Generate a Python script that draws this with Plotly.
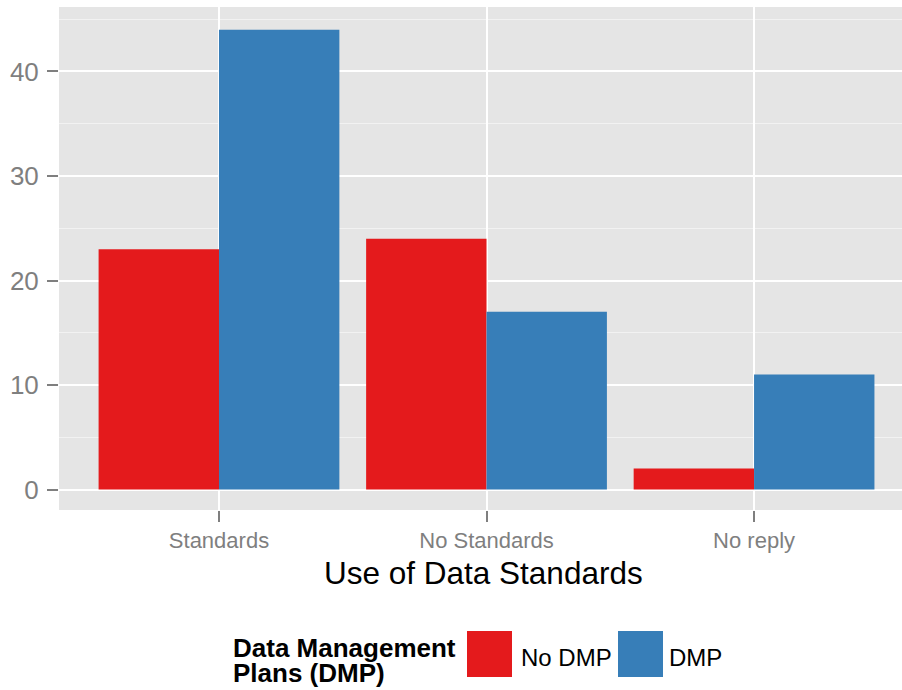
import plotly.graph_objects as go

categories = ["Standards", "No Standards", "No reply"]
no_dmp = [23, 24, 2]
dmp = [44, 17, 11]
series_names = ["No DMP", "DMP"]
y_ticks = [0, 10, 20, 30, 40]
x_title = "Use of Data Standards"
legend_title = ["Data Management", "Plans (DMP)"]

RED = "#E41A1C"
BLUE = "#377EB8"
FONT = "Liberation Sans, Arial, sans-serif"
W, H = 902, 690
L, R, T, B = 59, 0, 7, 180
PW, PH = W - L - R, H - T - B


def px_x(px):
    return (px - L) / PW


def px_y(py):
    return (H - B - py) / PH


fig = go.Figure()
fig.add_trace(go.Bar(x=categories, y=no_dmp, name=series_names[0],
                     marker=dict(color=RED, line=dict(width=0)), showlegend=False))
fig.add_trace(go.Bar(x=categories, y=dmp, name=series_names[1],
                     marker=dict(color=BLUE, line=dict(width=0)), showlegend=False))

fig.update_layout(
    width=W, height=H,
    margin=dict(l=L, r=R, t=T, b=B, pad=0, autoexpand=False),
    paper_bgcolor="white",
    plot_bgcolor="#E5E5E5",
    barmode="group", bargap=0.1, bargroupgap=0,
    font=dict(family=FONT),
    showlegend=False,
)
fig.update_xaxes(
    type="category", range=[-0.598, 2.553], automargin=False,
    showgrid=True, gridcolor="white", gridwidth=2,
    ticks="outside", ticklen=11, tickwidth=1.5, tickcolor="#7F7F7F",
    tickfont=dict(size=22, color="#7F7F7F", family=FONT),
    showline=False, zeroline=False,
)
fig.update_yaxes(
    range=[-1.96, 46.17], tickvals=y_ticks, automargin=False,
    showgrid=True, gridcolor="white", gridwidth=2,
    minor=dict(tick0=5, dtick=10, showgrid=True, gridcolor="#F2F2F2", gridwidth=1, ticks=""),
    ticks="outside", ticklen=11, tickwidth=1.5, tickcolor="#7F7F7F",
    tickfont=dict(size=26, color="#7F7F7F", family=FONT),
    ticklabelstandoff=3,
    showline=False, zeroline=False,
)

ann = []
ann.append(dict(text=x_title, x=px_x(483), y=px_y(573), xref="paper", yref="paper",
                xanchor="center", yanchor="middle", showarrow=False,
                font=dict(size=31.5, color="black", family=FONT)))
ann.append(dict(text="<b>%s</b>" % legend_title[0], x=px_x(231), y=px_y(648), xref="paper", yref="paper",
                xanchor="left", yanchor="middle", showarrow=False,
                font=dict(size=26, color="black", family=FONT)))
ann.append(dict(text="<b>%s</b>" % legend_title[1], x=px_x(231), y=px_y(673), xref="paper", yref="paper",
                xanchor="left", yanchor="middle", showarrow=False,
                font=dict(size=26, color="black", family=FONT)))
shapes = []
keys = [(467, 512, RED, 519, series_names[0]), (618, 663, BLUE, 667, series_names[1])]
for x0, x1, col, tx, lab in keys:
    shapes.append(dict(type="rect", xref="paper", yref="paper",
                       x0=px_x(x0), x1=px_x(x1), y0=px_y(677), y1=px_y(631),
                       fillcolor=col, line=dict(width=0)))
    ann.append(dict(text=lab, x=px_x(tx), y=px_y(657), xref="paper", yref="paper",
                    xanchor="left", yanchor="middle", showarrow=False,
                    font=dict(size=24, color="black", family=FONT)))
fig.update_layout(annotations=ann, shapes=shapes)

fig.write_html(
    "out.html",
    config={"displayModeBar": False},
    post_script=(
        "document.documentElement.style.overflow='hidden';"
        "document.body.style.overflow='hidden';"
        "document.body.style.margin='0';document.body.style.padding='0';"
    ),
)
